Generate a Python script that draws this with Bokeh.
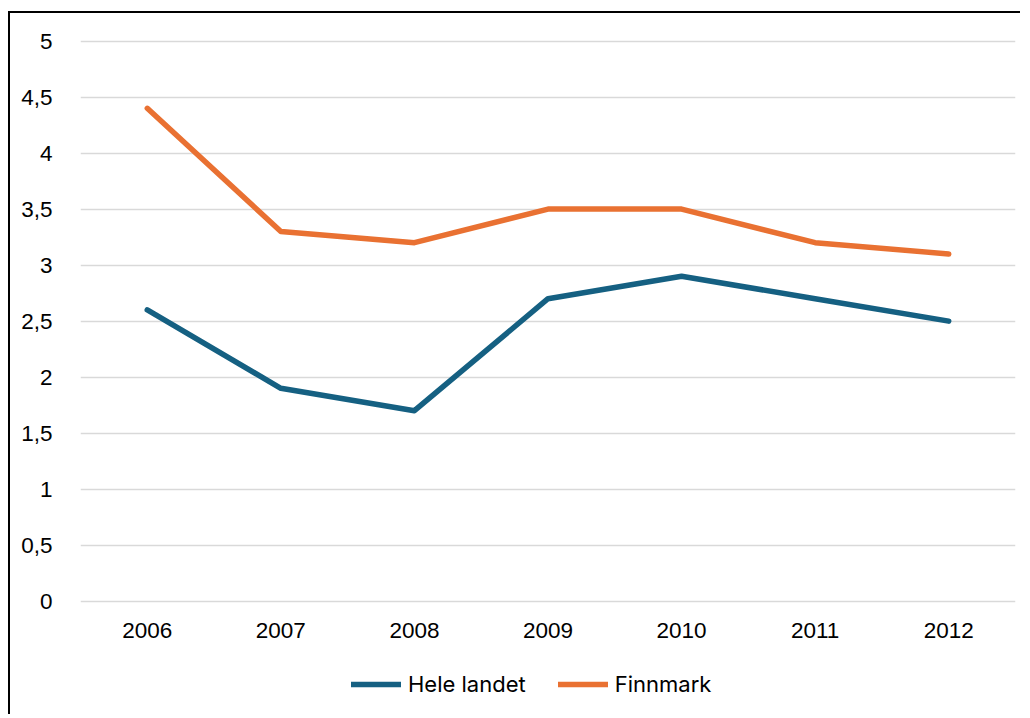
from bokeh.plotting import figure
from bokeh.models import FactorRange, Range1d, FixedTicker, CustomJSTickFormatter, Legend, LegendItem
from bokeh.embed import file_html
from bokeh.resources import INLINE

years = ["2006", "2007", "2008", "2009", "2010", "2011", "2012"]
hele_landet = [2.6, 1.9, 1.7, 2.7, 2.9, 2.7, 2.5]
finnmark = [4.4, 3.3, 3.2, 3.5, 3.5, 3.2, 3.1]
y_ticks = [0, 0.5, 1, 1.5, 2, 2.5, 3, 3.5, 4, 4.5, 5]

BLUE = "#156082"
ORANGE = "#E97132"

# frame extends below the value axis so the legend (inside the frame) is not clipped
p = figure(
    x_range=FactorRange(*years),
    y_range=Range1d(-0.95, 5.05),
    width=1012, height=703,
    min_border_left=70, min_border_right=7,
    min_border_top=22, min_border_bottom=9,
    output_backend="svg", toolbar_location=None,
)
p.styles = {"border-left": "2px solid black", "border-top": "2px solid black",
            "margin-top": "11px", "margin-left": "8px"}
p.outline_line_color = None
p.background_fill_color = "white"
p.border_fill_color = "white"

r1 = p.line(x=years, y=hele_landet, line_color=BLUE, line_width=5.5, line_cap="round", line_join="round")
r2 = p.line(x=years, y=finnmark, line_color=ORANGE, line_width=5.5, line_cap="round", line_join="round")

p.xgrid.grid_line_color = None
p.ygrid.grid_line_color = "#d9d9d9"
p.ygrid.grid_line_width = 1.5

for ax in (p.xaxis, p.yaxis):
    ax.axis_line_color = None
    ax.major_tick_line_color = None
    ax.minor_tick_line_color = None
    ax.major_label_text_font = "Liberation Sans"
    ax.major_label_text_font_size = "22.5px"
    ax.major_label_text_color = "#000000"

p.yaxis.ticker = FixedTicker(ticks=y_ticks)
p.yaxis.formatter = CustomJSTickFormatter(code="return tick.toString().replace('.', ',');")
p.yaxis.major_label_standoff = 22
p.xaxis.major_label_standoff = -91

legend = Legend(
    items=[LegendItem(label="Hele landet", renderers=[r1]),
           LegendItem(label="Finnmark", renderers=[r2])],
    location=(271, 10), orientation="horizontal",
    glyph_width=50, glyph_height=20, label_standoff=7, spacing=32,
    padding=0, margin=0, label_height=20,
    background_fill_alpha=0, border_line_alpha=0,
    label_text_font="Inter", label_text_font_size="22px", label_text_color="#000000",
)
p.add_layout(legend, "center")

open("out.html", "w").write(file_html(p, INLINE))
